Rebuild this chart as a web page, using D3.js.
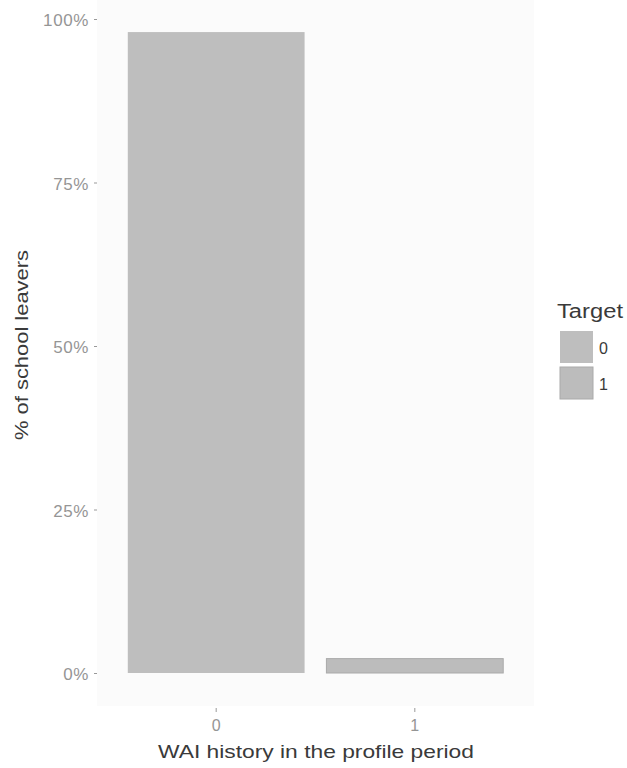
<!DOCTYPE html>
<html><head><meta charset="utf-8">
<script src="https://cdn.jsdelivr.net/npm/d3@7"></script>
<style>body{margin:0;background:#fff;} text{font-family:"Liberation Sans",Arial,sans-serif;}</style>
</head><body><svg id="c" width="627" height="768"></svg>
<script>
const categories = ["0", "1"];
const targets = ["0", "1"];
const target0 = [0.98, 0.0];
const target1 = [0.0, 0.022];
const yTicks = [0, 0.25, 0.5, 0.75, 1.0];
const xTitle = "WAI history in the profile period";
const yTitle = "% of school leavers";
const legendTitle = "Target";

const svg = d3.select("#c");
const panel = {left: 97, right: 534, top: 0, bottom: 706};

const x = d3.scaleBand().domain(categories).range([panel.left, panel.right]).paddingInner(0.11).paddingOuter(0.155);
const y = d3.scaleLinear().domain([0, 1]).range([673, 19]);

svg.append("rect").attr("x", panel.left).attr("y", panel.top)
  .attr("width", panel.right - panel.left).attr("height", panel.bottom - panel.top)
  .attr("fill", "#fbfbfb");

const fills = {"0": "#bebebe", "1": "#bcbcbc"};
const strokes = {"0": "none", "1": "#aaaaaa"};

const rows = categories.map((c, i) => ({cat: c, "0": target0[i], "1": target1[i]}));
const stack = d3.stack().keys(targets)(rows);
stack.forEach(layer => {
  svg.append("g").selectAll("rect").data(layer).join("rect")
    .attr("x", d => x(d.data.cat))
    .attr("width", x.bandwidth())
    .attr("y", d => y(d[1]))
    .attr("height", d => Math.max(0, y(d[0]) - y(d[1])))
    .attr("fill", fills[layer.key])
    .attr("stroke", d => (d[1] - d[0]) > 0 ? strokes[layer.key] : "none")
    .attr("stroke-width", 1);
});

// Y axis
const yAxis = d3.axisLeft(y).tickValues(yTicks).tickFormat(d3.format(".0%")).tickSize(3).tickPadding(5);
const gy = svg.append("g").attr("transform", `translate(${panel.left},0)`).call(yAxis);
gy.select(".domain").remove();
gy.selectAll(".tick line").attr("stroke", "#999999");
gy.selectAll(".tick text").attr("fill", "#959595").attr("font-size", 17).attr("dy", "0.4em").style("letter-spacing", "0.6px");

// X axis
const xAxis = d3.axisBottom(x).tickSize(4).tickPadding(8);
const gx = svg.append("g").attr("transform", `translate(0,${708})`).call(xAxis);
gx.select(".domain").remove();
gx.selectAll(".tick line").attr("stroke", "#999999");
gx.selectAll(".tick text").attr("fill", "#959595").attr("font-size", 16);

// Titles
svg.append("text").attr("x", 316).attr("y", 758)
  .attr("text-anchor", "middle").attr("font-size", 19).attr("fill", "#3a3a3a")
  .attr("textLength", 316).attr("lengthAdjust", "spacingAndGlyphs").text(xTitle);
svg.append("text").attr("transform", `translate(28,345) rotate(-90)`)
  .attr("text-anchor", "middle").attr("font-size", 19).attr("fill", "#3a3a3a")
  .attr("textLength", 190).attr("lengthAdjust", "spacingAndGlyphs").text(yTitle);

// Legend
const lg = svg.append("g").attr("transform", "translate(557,0)");
lg.append("text").attr("x", 0).attr("y", 318).attr("font-size", 20).attr("fill", "#3a3a3a")
  .attr("textLength", 66).attr("lengthAdjust", "spacingAndGlyphs").text(legendTitle);
targets.forEach((t, i) => {
  lg.append("rect").attr("x", 3).attr("y", 331 + i * 36).attr("width", 33).attr("height", 32)
    .attr("fill", fills[t]).attr("stroke", strokes[t] === "none" ? "none" : strokes[t]).attr("stroke-width", 1);
  lg.append("text").attr("x", 42).attr("y", 354 + i * 36).attr("font-size", 16).attr("fill", "#3a3a3a").text(t);
});
</script></body></html>
